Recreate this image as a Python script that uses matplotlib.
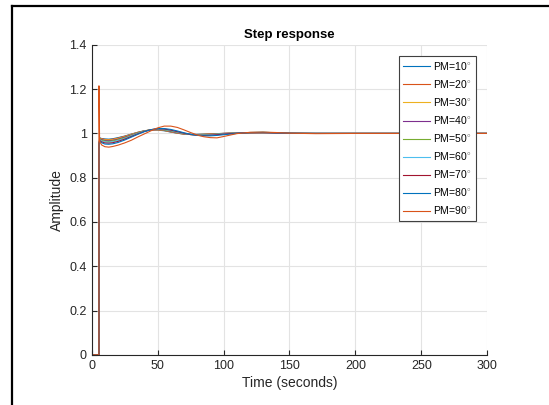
import matplotlib
matplotlib.use('Agg')
import matplotlib.pyplot as plt
from matplotlib.lines import Line2D

plt.rcParams['font.family'] = ['Liberation Sans', 'DejaVu Sans']
plt.rcParams['mathtext.fontset'] = 'custom'
plt.rcParams['mathtext.rm'] = 'Liberation Sans'

# time samples (s); 5.5 appears twice for the step at the dead time
t = [0, 5.5, 5.5, 6, 7.5, 10, 13, 16, 20, 25, 30, 35, 40, 45, 50, 55, 60, 65, 70,
     75, 80, 85, 90, 95, 100, 110, 120, 130, 140, 150, 170, 200, 250, 300]

pm10 = [0, 0, 0.88, 0.980, 0.977, 0.975, 0.974, 0.976, 0.981, 0.988, 0.997, 1.005, 1.012, 1.015, 1.015, 1.012, 1.006,
        1.001, 0.997, 0.996, 0.996, 0.997, 0.998, 0.999, 1.000, 1.001, 1.002, 1.002, 1.001, 1.000, 1.0, 1.0, 1.0, 1.0]
pm20 = [0, 0, 0.89, 0.979, 0.976, 0.973, 0.972, 0.974, 0.979, 0.987, 0.996, 1.005, 1.012, 1.016, 1.016, 1.013, 1.007,
        1.001, 0.997, 0.995, 0.995, 0.996, 0.998, 0.999, 1.000, 1.002, 1.002, 1.002, 1.001, 1.000, 1.0, 1.0, 1.0, 1.0]
pm30 = [0, 0, 0.90, 0.978, 0.974, 0.971, 0.970, 0.972, 0.977, 0.985, 0.995, 1.004, 1.011, 1.016, 1.017, 1.014, 1.008,
        1.002, 0.997, 0.995, 0.995, 0.996, 0.997, 0.999, 1.000, 1.002, 1.003, 1.002, 1.001, 1.000, 1.0, 1.0, 1.0, 1.0]
pm40 = [0, 0, 0.92, 0.976, 0.972, 0.968, 0.967, 0.969, 0.974, 0.983, 0.993, 1.003, 1.011, 1.016, 1.018, 1.015, 1.009,
        1.003, 0.998, 0.995, 0.994, 0.995, 0.996, 0.998, 1.000, 1.002, 1.003, 1.003, 1.002, 1.000, 1.0, 1.0, 1.0, 1.0]
pm50 = [0, 0, 0.93, 0.974, 0.969, 0.965, 0.964, 0.966, 0.971, 0.980, 0.991, 1.002, 1.011, 1.017, 1.019, 1.016, 1.011,
        1.005, 0.999, 0.995, 0.994, 0.994, 0.995, 0.997, 0.999, 1.002, 1.004, 1.005, 1.003, 1.001, 1.0, 1.0, 1.0, 1.0]
pm60 = [0, 0, 0.94, 0.971, 0.966, 0.961, 0.960, 0.962, 0.968, 0.977, 0.989, 1.000, 1.010, 1.017, 1.020, 1.018, 1.013,
        1.006, 1.000, 0.995, 0.993, 0.993, 0.994, 0.996, 0.998, 1.002, 1.004, 1.003, 1.002, 1.000, 1.0, 1.0, 1.0, 1.0]
pm70 = [0, 0, 0.95, 0.968, 0.962, 0.957, 0.956, 0.958, 0.964, 0.974, 0.986, 0.998, 1.009, 1.017, 1.021, 1.020, 1.015,
        1.008, 1.001, 0.995, 0.992, 0.991, 0.992, 0.994, 0.997, 1.001, 1.004, 1.004, 1.002, 1.001, 1.0, 1.0, 1.0, 1.0]
pm80 = [0, 0, 0.96, 0.965, 0.958, 0.952, 0.951, 0.953, 0.959, 0.970, 0.983, 0.996, 1.008, 1.017, 1.022, 1.022, 1.018,
        1.011, 1.003, 0.996, 0.991, 0.989, 0.989, 0.991, 0.994, 1.000, 1.004, 1.005, 1.003, 1.001, 1.0, 1.0, 1.0, 1.0]
pm90 = [0, 0, 1.215, 0.965, 0.948, 0.940, 0.938, 0.941, 0.947, 0.957, 0.969, 0.984, 0.998, 1.012, 1.025, 1.033, 1.033,
        1.027, 1.016, 1.004, 0.993, 0.985, 0.981, 0.980, 0.986, 0.999, 1.005, 1.006, 1.004, 1.001, 0.999, 1.0, 1.0, 1.0]

series = [pm10, pm20, pm30, pm40, pm50, pm60, pm70, pm80, pm90]
labels = ['PM=10$^{\\circ}$', 'PM=20$^{\\circ}$', 'PM=30$^{\\circ}$', 'PM=40$^{\\circ}$', 'PM=50$^{\\circ}$',
          'PM=60$^{\\circ}$', 'PM=70$^{\\circ}$', 'PM=80$^{\\circ}$', 'PM=90$^{\\circ}$']
colors = ['#0072BD', '#D95319', '#EDB120', '#7E2F8E', '#77AC30', '#4DBEEE', '#A2142F', '#0072BD', '#D95319']

fig = plt.figure(figsize=(5.49, 4.05), dpi=100)
ax = fig.add_axes([0.167, 0.124, 0.7206, 0.7652])

for y, lab, c in zip(series, labels, colors):
    ax.plot(t, y, color=c, linewidth=0.8, label=lab)

ax.set_xlim(0, 300)
ax.set_ylim(0, 1.4)
ax.set_xticks([0, 50, 100, 150, 200, 250, 300])
ax.set_yticks([0, 0.2, 0.4, 0.6, 0.8, 1.0, 1.2, 1.4])
ax.set_yticklabels(['0', '0.2', '0.4', '0.6', '0.8', '1', '1.2', '1.4'])
ax.grid(True, color='#e3e3e3', linewidth=0.8)
ax.set_axisbelow(True)
for s in ['top', 'right']:
    ax.spines[s].set_visible(False)
for s in ['left', 'bottom']:
    ax.spines[s].set_color('#262626')
    ax.spines[s].set_linewidth(0.8)
ax.tick_params(direction='in', length=3.5, width=0.8, color='#262626',
               labelcolor='#262626', labelsize=9)

ax.set_title('Step response', fontsize=9.5, fontweight='bold', pad=5)
ax.set_xlabel('Time (seconds)', fontsize=10, color='#262626', labelpad=3)
ax.set_ylabel('Amplitude', fontsize=10, color='#262626', labelpad=4)

leg = ax.legend(loc='upper right', bbox_to_anchor=(0.9715, 0.9645), borderaxespad=0,
                fontsize=7.5, handlelength=2.6, handletextpad=0.3, labelspacing=0.58,
                fancybox=False, framealpha=1, borderpad=0.4)
leg.get_frame().set_edgecolor('#404040')
leg.get_frame().set_linewidth(0.8)

# window border (left and top edges of the figure window)
fig.add_artist(Line2D([0.021, 0.021], [0, 0.984], color='black', linewidth=1.6, transform=fig.transFigure))
fig.add_artist(Line2D([0.021, 1.0], [0.984, 0.984], color='black', linewidth=1.6, transform=fig.transFigure))

fig.savefig('out.png', dpi=100)
